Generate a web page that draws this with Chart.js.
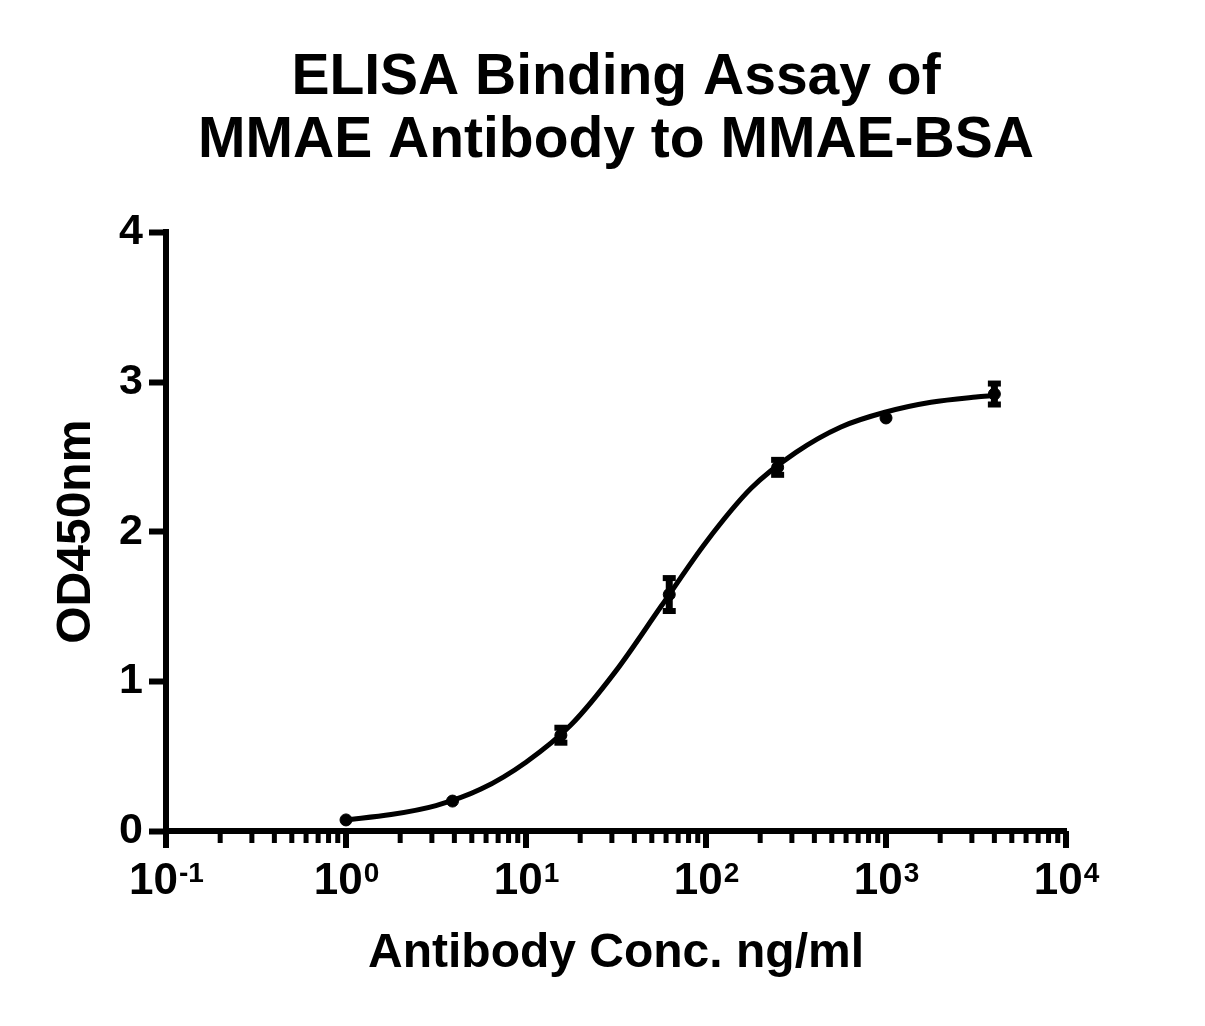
<!DOCTYPE html>
<html lang="en">
<head>
  <meta charset="UTF-8">
  <title>ELISA Binding Assay of MMAE Antibody to MMAE-BSA</title>
  <script src="https://cdn.jsdelivr.net/npm/chart.js"></script>
  <style>
    body { margin: 0; background: #fff; }
    #wrap { width: 1205px; height: 1026px; }
  </style>
</head>
<body>

<div id="wrap"><canvas id="elisa"></canvas></div>

<script>
  // measured points (mean OD450 with error)
  const conc = [1, 3.906, 15.625, 62.5, 250, 1000, 4000];
  const odMean = [0.074, 0.20, 0.64, 1.58, 2.43, 2.76, 2.92];
  const odErr = [0, 0, 0.05, 0.11, 0.05, 0, 0.07];

  // fitted curve
  const curveX = [1, 1.78, 3.16, 5.62, 10, 17.8, 31.6, 56.2, 100, 178, 316, 562, 1000, 1778, 3162, 4000];
  const curveY = [0.075, 0.11, 0.17, 0.28, 0.46, 0.71, 1.07, 1.50, 1.93, 2.29, 2.53, 2.70, 2.80, 2.865, 2.90, 2.91];

  // axis ticks
  const xDecades = [0.1, 1, 10, 100, 1000, 10000];
  const xExponents = ['-1', '0', '1', '2', '3', '4'];
  const xMinorSteps = [2, 3, 4, 5, 6, 7, 8, 9];
  const yTicks = [0, 1, 2, 3, 4];

  const FONT = '"Liberation Sans", Arial, sans-serif';
  Chart.defaults.font.family = FONT;
  Chart.defaults.color = '#000';

  // error bars + x axis ticks and labels (10 with superscript)
  const extras = {
    id: 'extras',
    afterDatasetsDraw(chart) {
      const ctx = chart.ctx;
      const xs = chart.scales.x, ys = chart.scales.y;
      ctx.save();
      ctx.fillStyle = '#000';
      conc.forEach((c, i) => {
        if (!odErr[i]) return;
        const px = xs.getPixelForValue(c);
        const top = ys.getPixelForValue(odMean[i] + odErr[i]);
        const bot = ys.getPixelForValue(odMean[i] - odErr[i]);
        ctx.fillRect(px - 3.5, top, 7, bot - top);
        ctx.fillRect(px - 6.5, top - 3, 13, 6);
        ctx.fillRect(px - 6.5, bot - 3, 13, 6);
      });
      ctx.restore();
    },
    afterDraw(chart) {
      const ctx = chart.ctx;
      const xs = chart.scales.x;
      const y0 = chart.chartArea.bottom;
      ctx.save();
      ctx.fillStyle = '#000';
      xs.ticks.forEach(t => {
        const px = xs.getPixelForValue(t.value);
        if (t.major) ctx.fillRect(px - 3, y0, 6, 17);
        else ctx.fillRect(px - 2.5, y0, 5, 12);
      });
      xDecades.forEach((d, i) => {
        const px = xs.getPixelForValue(d);
        ctx.font = 'bold 44px ' + FONT;
        const w1 = ctx.measureText('10').width;
        ctx.font = 'bold 28px ' + FONT;
        const w2 = ctx.measureText(xExponents[i]).width;
        const start = px - (w1 + w2) / 2;
        ctx.textAlign = 'left';
        ctx.textBaseline = 'alphabetic';
        ctx.font = 'bold 44px ' + FONT;
        ctx.fillText('10', start, 894);
        ctx.font = 'bold 28px ' + FONT;
        ctx.fillText(xExponents[i], start + w1 + 1, 882);
      });
      ctx.restore();
    }
  };

  new Chart(document.getElementById('elisa'), {
    type: 'scatter',
    data: {
      datasets: [
        {
          label: 'Fit',
          data: curveX.map((x, i) => ({ x: x, y: curveY[i] })),
          showLine: true,
          borderColor: '#000',
          borderWidth: 5,
          pointRadius: 0,
          cubicInterpolationMode: 'monotone',
          fill: false
        },
        {
          label: 'OD450',
          data: conc.map((x, i) => ({ x: x, y: odMean[i] })),
          backgroundColor: '#000',
          borderColor: '#000',
          pointRadius: 6
        }
      ]
    },
    options: {
      responsive: true,
      maintainAspectRatio: false,
      animation: false,
      layout: { padding: { left: 0, right: 139, top: 0, bottom: 0 } },
      plugins: {
        legend: { display: false },
        tooltip: { enabled: false },
        title: {
          display: true,
          fullSize: false,
          text: ['ELISA Binding Assay of', 'MMAE Antibody to MMAE-BSA'],
          color: '#000',
          font: { size: 57, weight: 'bold', lineHeight: 1.1 },
          padding: { top: 47, bottom: 60 }
        }
      },
      scales: {
        x: {
          type: 'logarithmic',
          min: 0.1,
          max: 10000,
          afterBuildTicks: s => {
            const list = [];
            xDecades.forEach((d, i) => {
              list.push({ value: d, major: true });
              if (i < xDecades.length - 1) xMinorSteps.forEach(m => list.push({ value: d * m, major: false }));
            });
            s.ticks = list;
          },
          afterFit: s => { s.height = 195; },
          ticks: { display: false },
          grid: { display: true, drawOnChartArea: false, drawTicks: false },
          border: { display: true, width: 6, color: '#000' },
          title: {
            display: true,
            text: 'Antibody Conc. ng/ml',
            color: '#000',
            font: { size: 48, weight: 'bold', lineHeight: 1.2 },
            padding: { top: 0, bottom: 43 }
          }
        },
        y: {
          min: 0,
          max: 4,
          afterBuildTicks: s => { s.ticks = yTicks.map(v => ({ value: v })); },
          afterFit: s => { s.width = 166; },
          ticks: {
            padding: 6,
            color: '#000',
            font: { size: 43, weight: 'bold' }
          },
          grid: {
            drawOnChartArea: false,
            drawTicks: true,
            tickLength: 17,
            tickWidth: 6,
            tickColor: '#000'
          },
          border: { display: true, width: 6, color: '#000' },
          title: {
            display: true,
            text: 'OD450nm',
            color: '#000',
            font: { size: 48, weight: 'bold', lineHeight: 1.2 },
            padding: { top: 48, bottom: 0 }
          }
        }
      }
    },
    plugins: [extras]
  });
</script>

</body>
</html>
